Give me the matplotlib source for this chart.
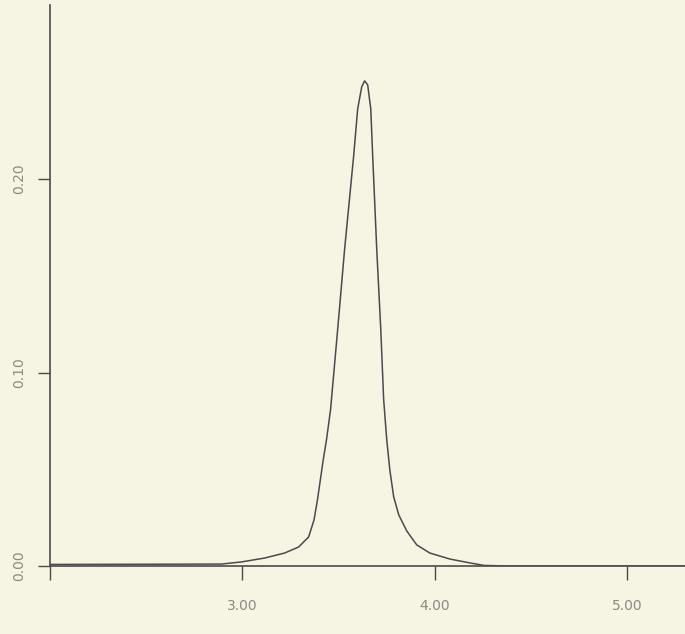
import matplotlib
matplotlib.use('Agg')
import numpy as np
from matplotlib import pyplot as plt

# peak curve (x in axis units, y in axis units)
peak_x = [2.00, 2.50, 2.891, 2.995, 3.115, 3.219, 3.292, 3.344, 3.372, 3.390,
          3.405, 3.420, 3.437, 3.458, 3.495, 3.531, 3.578, 3.599, 3.620, 3.635,
          3.651, 3.667, 3.677, 3.698, 3.719, 3.734, 3.750, 3.766, 3.786, 3.8125,
          3.854, 3.906, 3.974, 4.078, 4.182, 4.255, 4.375, 5.30]
peak_y = [0.0008, 0.0009, 0.0010, 0.0021, 0.0041, 0.0067, 0.0098, 0.0150, 0.0238, 0.0342,
          0.0446, 0.0549, 0.0653, 0.0808, 0.1223, 0.1637, 0.2119, 0.2363, 0.2477, 0.2508,
          0.2487, 0.2363, 0.2119, 0.1637, 0.1223, 0.0860, 0.0653, 0.0497, 0.0358, 0.0264,
          0.0181, 0.0109, 0.0067, 0.0036, 0.0016, 0.0003, 0.0, 0.0]

xticks = [2.0, 3.0, 4.0, 5.0]
xlabels = ['', '3.00', '4.00', '5.00']
yticks = [0.0, 0.1, 0.2]
ylabels = ['0.00', '0.10', '0.20']

bg = '#f6f4e3'
ink = '#4a4a4a'

fig = plt.figure(figsize=(6.85, 6.34), dpi=100, facecolor=bg)
ax = fig.add_axes([50/685, 68/634, 635/685, 561/634], facecolor=bg)

ax.plot(peak_x, peak_y, color=ink, lw=1.1)

ax.set_xlim(2.0, 5.30)
ax.set_ylim(0.0, 0.29)

for s in ['top', 'right']:
    ax.spines[s].set_visible(False)
for s in ['left', 'bottom']:
    ax.spines[s].set_color(ink)
    ax.spines[s].set_linewidth(1.2)

ax.set_xticks(xticks)
ax.set_xticklabels(xlabels, fontsize=10, color='#8a8a80')
ax.set_yticks(yticks)
ax.set_yticklabels(ylabels, fontsize=10, color='#8a8a80', rotation=90, va='center')
ax.tick_params(axis='x', direction='out', length=10, width=1.0, color=ink, pad=14)
ax.tick_params(axis='y', direction='out', length=9, width=1.0, color=ink, pad=8)

fig.savefig('out.png', dpi=100, facecolor=bg)
